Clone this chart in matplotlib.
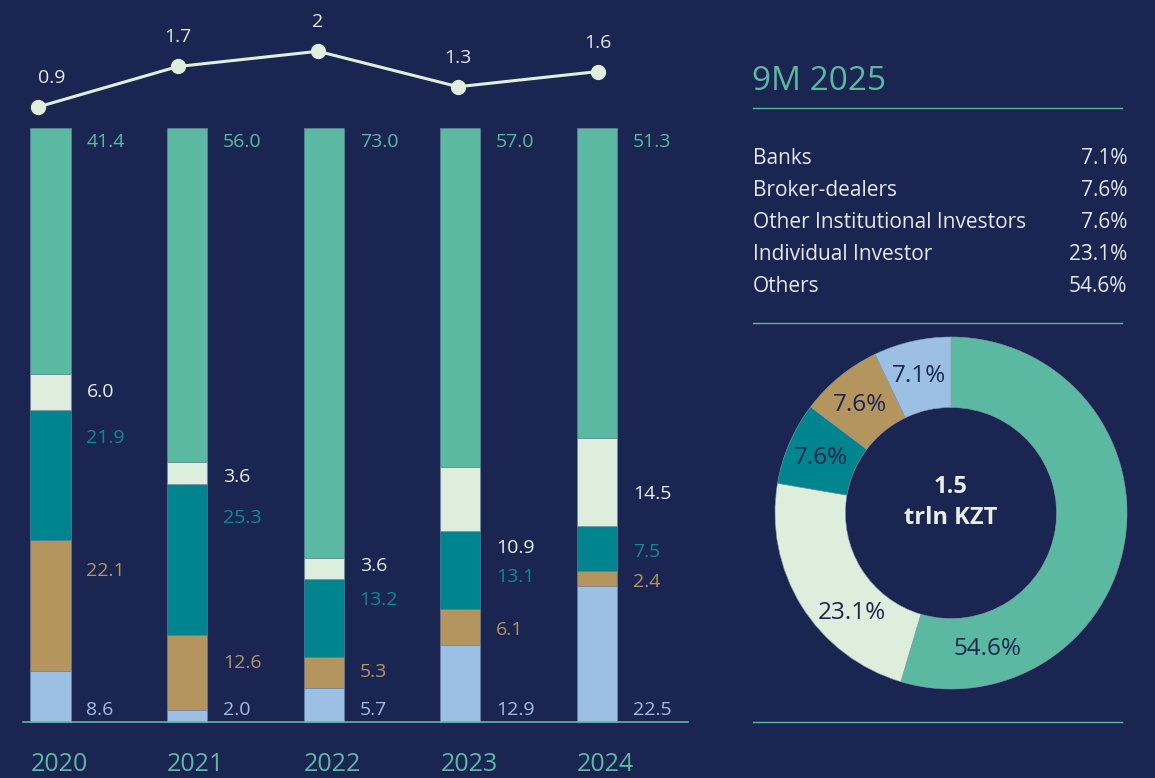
import numpy as np
import matplotlib.pyplot as plt

# data
years = ["2020", "2021", "2022", "2023", "2024"]
categories = ["Banks", "Broker-dealers", "Other Institutional Investors",
              "Individual Investor", "Others"]
banks = [8.6, 2.0, 5.7, 12.9, 22.5]
brokers = [22.1, 12.6, 5.3, 6.1, 2.4]
other_inst = [21.9, 25.3, 13.2, 13.1, 7.5]
individual = [6.0, 3.6, 3.6, 10.9, 14.5]
others = [41.4, 56.0, 73.0, 57.0, 51.3]
volume = [0.9, 1.7, 2, 1.3, 1.6]  # trln KZT per year

share_2025 = [7.1, 7.6, 7.6, 23.1, 54.6]
total_2025 = "1.5"

# colours
BG = "#1a2651"
colors = ["#9bc0e3", "#b5955e", "#00848e", "#ddeedc", "#5bb9a2"]
label_colors = ["#a3bde0", "#b5955e", "#0a8b94", "#e6eee6", "#5bb9a2"]
LINE = "#dfeedd"
TEXT = "#e4e8ef"

# value label heights inside each bar (percent scale), bottom -> top
label_y = [
    [2.0, 25.4, 47.8, 55.6, 97.6],
    [2.0, 9.9, 34.3, 41.2, 97.6],
    [2.0, 8.4, 20.5, 26.3, 97.6],
    [2.0, 15.5, 24.4, 29.3, 97.6],
    [2.0, 23.6, 28.6, 38.4, 97.6],
]

plt.rcParams['font.family'] = ['Open Sans', 'DejaVu Sans']

W, H = 1155, 778
fig = plt.figure(figsize=(W / 100, H / 100), dpi=100, facecolor=BG)

# ---- stacked bars (100%) ----
ax = fig.add_axes([0, 0, 700 / W, 1])
ax.set_facecolor("none")
x = np.arange(len(years))
series = np.array([banks, brokers, other_inst, individual, others])
shares = series / series.sum(axis=0) * 100

bottom = np.zeros(len(years))
for k in range(len(categories)):
    ax.bar(x, shares[k], bottom=bottom, width=0.293, color=colors[k],
           edgecolor="#6f86a8", linewidth=0.4)
    bottom += shares[k]

for i in range(len(years)):
    for k in range(len(categories)):
        ax.text(i + 0.263, label_y[i][k], f"{series[k][i]:.1f}",
                color=label_colors[k], fontsize=14, ha="left", va="center")
    ax.text(i - 0.146, -7.2, years[i], color="#5bb9a2", fontsize=18,
            ha="left", va="center")

ax.set_xlim(-50.5 / 136.6, (700 - 50.5) / 136.6)
ax.set_ylim(-(778 - 722) / 5.94, 722 / 5.94)
ax.axhline(0, xmin=23 / 700, xmax=688 / 700, color="#5bb9a2", linewidth=1.2)
ax.axis("off")

# ---- volume line above the bars ----
lx = fig.add_axes([0, 0, 700 / W, 1])
lx.set_facecolor("none")
lx.plot(x, volume, color=LINE, linewidth=2.2, marker="o", markersize=10,
        markerfacecolor=LINE, markeredgecolor=LINE)
for i, v in enumerate(volume):
    dx = 14 if i == 0 else 0
    lx.annotate(f"{v:g}", (i, v), xytext=(dx, 29), textcoords="offset pixels",
                ha="center", va="center", color=TEXT, fontsize=14)
lx.set_xlim(-38 / 140, (700 - 38) / 140)
lx.set_ylim(-(778 - 152.5) / 50.6, 152.5 / 50.6)
lx.axis("off")

# ---- right panel: 9M 2025 ----
def fx(px):
    return px / W


def fy(py):
    return 1 - py / H


fig.text(fx(752), fy(82), "9M 2025", color="#5bb9a2", fontsize=24,
         ha="left", va="center")
for py in (108, 323, 722):
    fig.add_artist(plt.Line2D([fx(753), fx(1122)], [fy(py), fy(py)],
                              color="#5bb9a2", linewidth=1.0))

for r, (name, val) in enumerate(zip(categories, share_2025)):
    yy = fy(159 + 32 * r)
    fig.text(fx(753), yy, name, color=TEXT, fontsize=15, ha="left",
             va="center")
    fig.text(fx(1127), yy, f"{val}%", color=TEXT, fontsize=15, ha="right",
             va="center")

# donut
cx, cy, R = 951, 513, 176
pax = fig.add_axes([fx(cx - R), fy(cy + R), 2 * R / W, 2 * R / H])
pax.set_facecolor("none")
order = [4, 3, 2, 1, 0]  # clockwise from the top: Others first
vals = [share_2025[k] for k in order]
wedges, _ = pax.pie(vals, colors=[colors[k] for k in order], startangle=90,
                    counterclock=False, radius=1,
                    wedgeprops=dict(width=0.4, edgecolor="#8a9ab0",
                                    linewidth=0.4))
pax.set_xlim(-1, 1)
pax.set_ylim(-1, 1)
pax.set_aspect("equal")
pax.axis("off")

# label angles (degrees) for each wedge, in the same order
label_ang = [-75, -135, 157, 130, 103]
for v, a in zip(vals, label_ang):
    t = np.deg2rad(a)
    pax.text(0.8 * np.cos(t), 0.8 * np.sin(t), f"{v}%", color=BG,
             fontsize=17.5, ha="center", va="center")

pax.text(0, 0.15, total_2025, color="#e6eee6", fontsize=17,
         fontweight="bold", ha="center", va="center")
pax.text(0, -0.03, "trln KZT", color="#e6eee6", fontsize=17,
         fontweight="bold", ha="center", va="center")

fig.savefig("out.png", dpi=100, facecolor=BG)
